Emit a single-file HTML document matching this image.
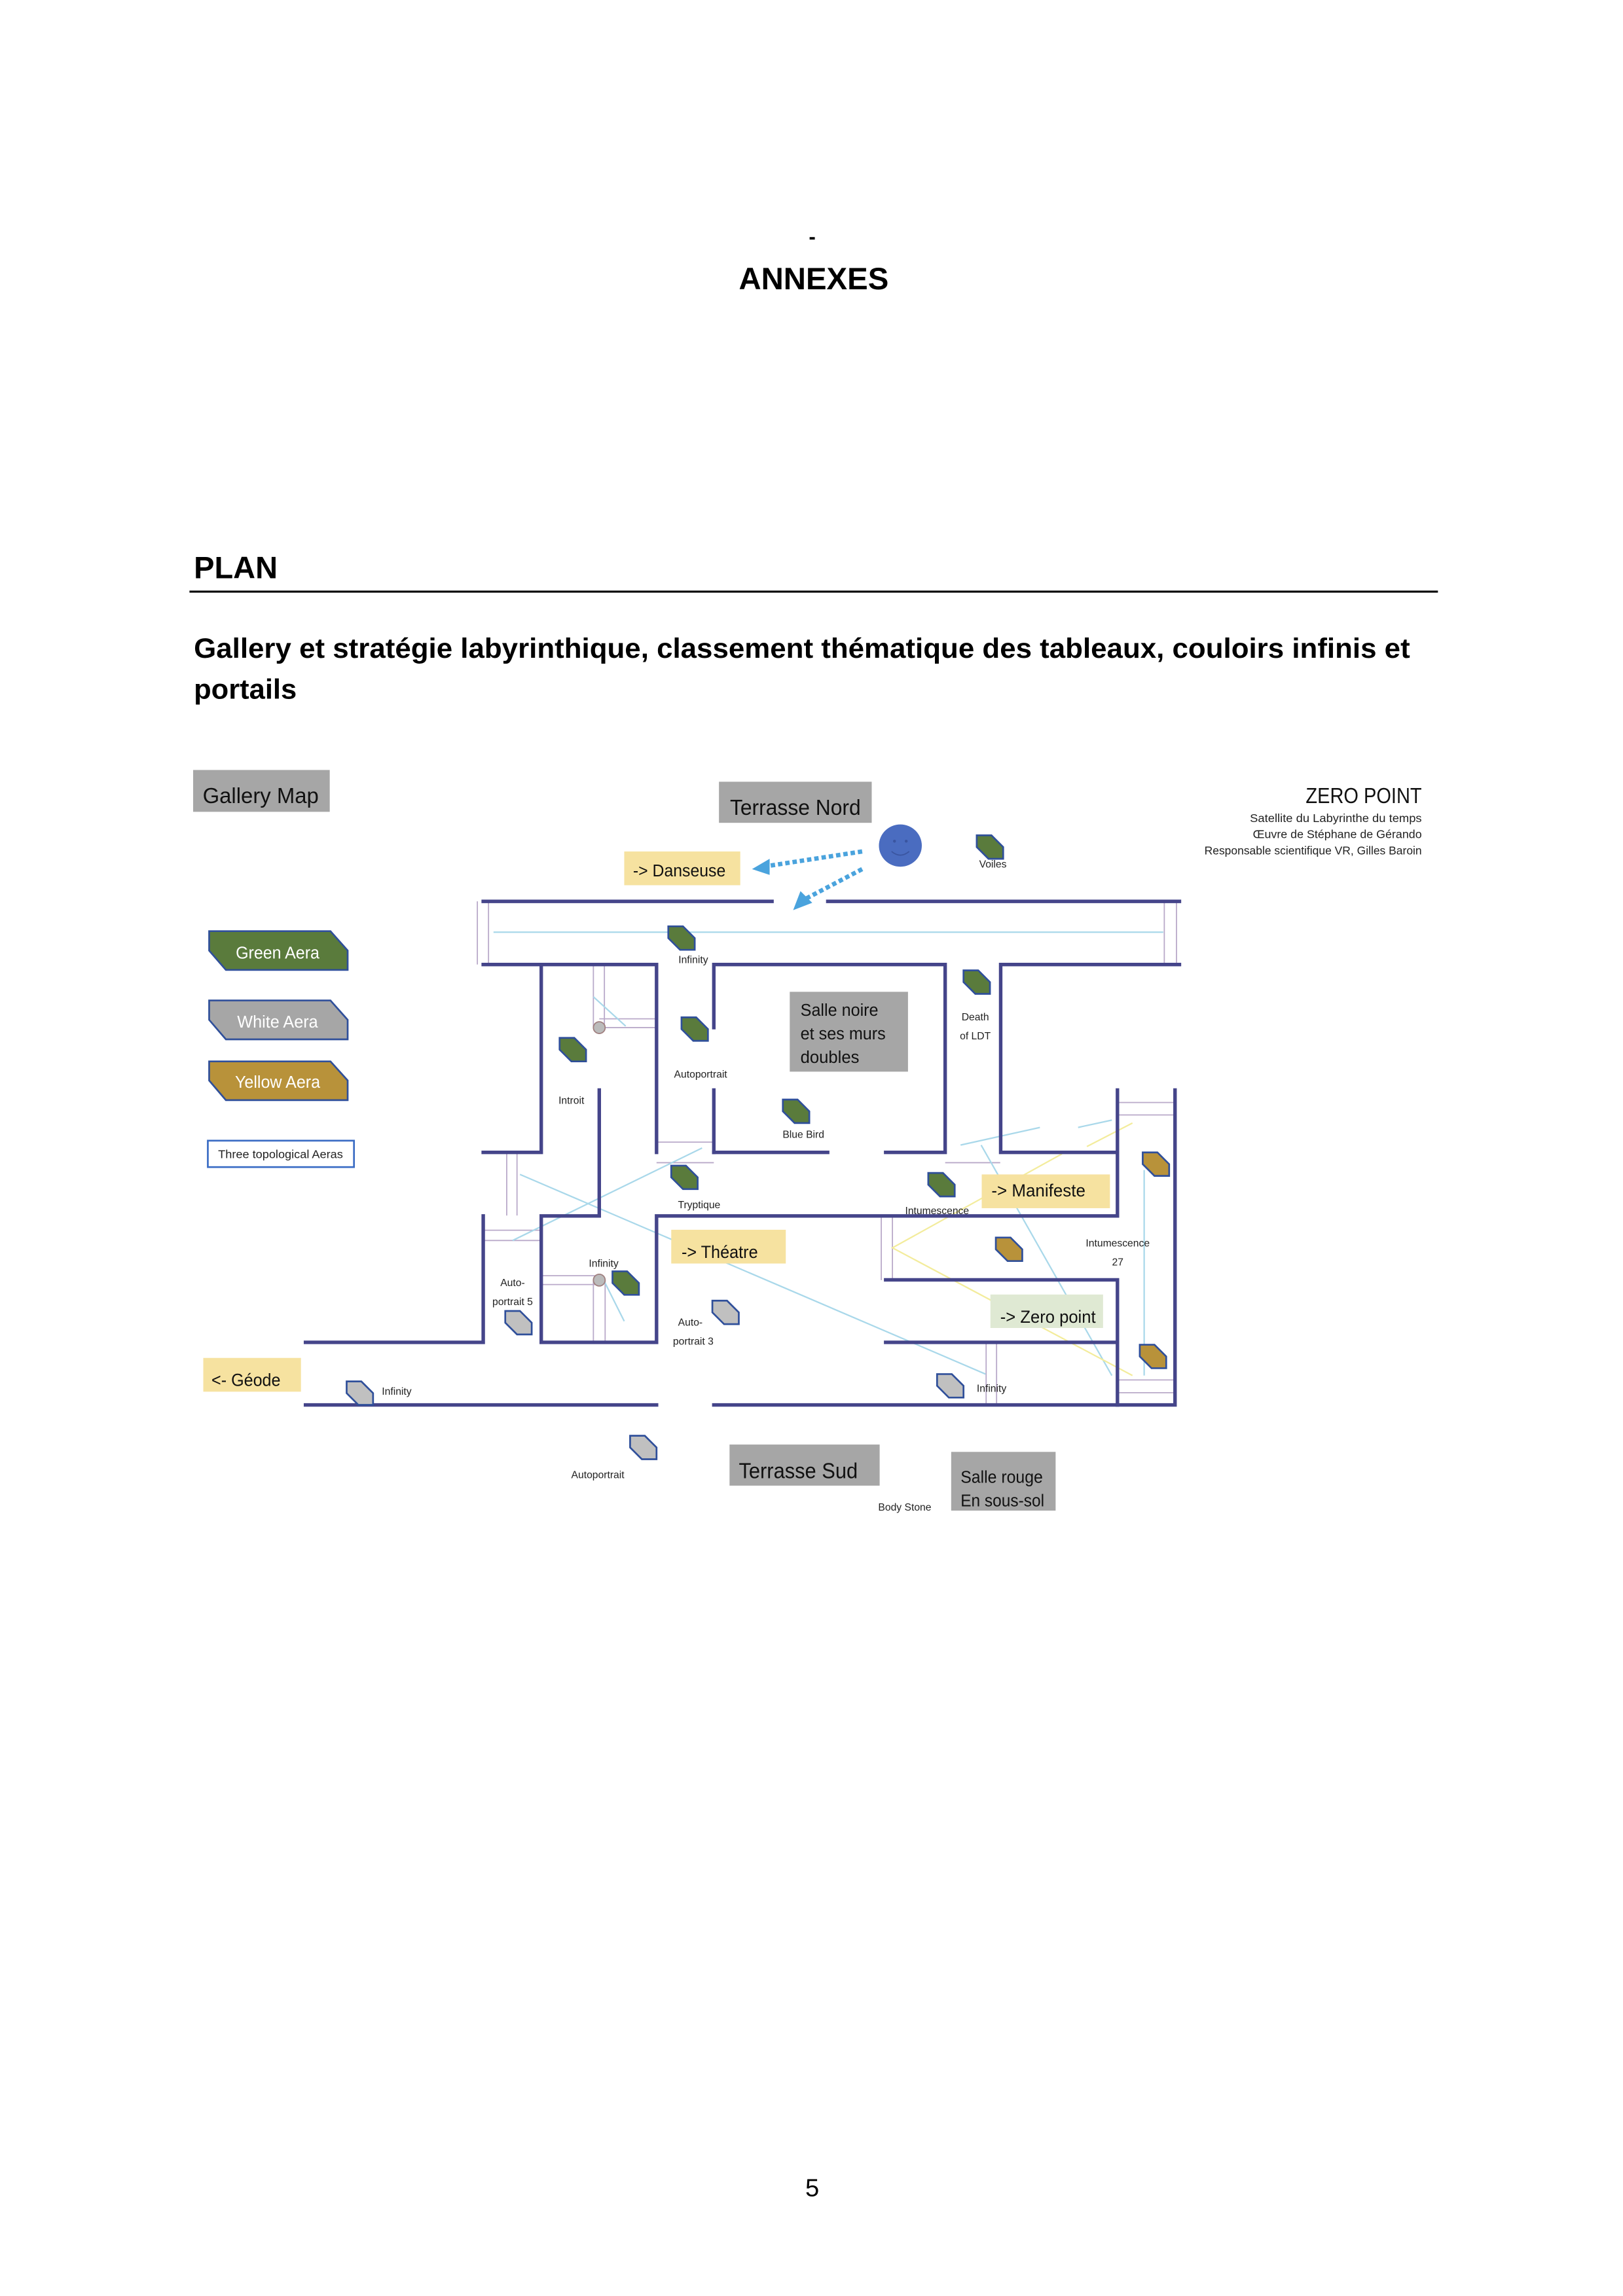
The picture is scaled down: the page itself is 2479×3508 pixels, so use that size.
<!DOCTYPE html>
<html><head><meta charset="utf-8"><style>
html,body{margin:0;padding:0;background:#fff;}
svg{display:block;}
text{font-family:"Liberation Sans",sans-serif;}
.b{font-weight:bold;}
.w{fill:none;stroke:#45458a;stroke-width:2.4;stroke-linecap:square;}
.t{fill:none;stroke:#b9a9c9;stroke-width:0.8;}
.lb{fill:none;stroke:#a9d8ea;stroke-width:1;}
.ly{fill:none;stroke:#f3ec9c;stroke-width:1;}
.lab{font-size:7px;fill:#222;}
.g{fill:#5a7b3c;stroke:#2f4f9a;stroke-width:1.2;}
.s{fill:#c0c0c0;stroke:#2f4f9a;stroke-width:1.2;}
.y{fill:#b8923a;stroke:#2f4f9a;stroke-width:1.2;}
</style></head><body>
<svg width="2479" height="3508" viewBox="0 0 1105 1564" preserveAspectRatio="none" xmlns="http://www.w3.org/2000/svg">
<defs>
<polygon id="hx" points="0,0 10,0 18,8 18,16 8,16 0,8"/>
</defs>
<!-- page text -->
<text x="553" y="166" font-size="14" text-anchor="middle" class="b">-</text>
<text x="554" y="197" font-size="21" text-anchor="middle" class="b" textLength="102" lengthAdjust="spacingAndGlyphs">ANNEXES</text>
<text x="132" y="394" font-size="21" class="b" textLength="57" lengthAdjust="spacingAndGlyphs">PLAN</text>
<line x1="129" y1="403" x2="979" y2="403" stroke="#000" stroke-width="1.4"/>
<text x="132" y="448" font-size="19" class="b" textLength="828" lengthAdjust="spacingAndGlyphs">Gallery et stratégie labyrinthique, classement thématique des tableaux, couloirs infinis et</text>
<text x="132" y="476" font-size="19" class="b" textLength="70" lengthAdjust="spacingAndGlyphs">portails</text>
<text x="553" y="1496" font-size="17" text-anchor="middle">5</text>

<!-- Gallery map header boxes -->
<rect x="131.5" y="524.5" width="93" height="28.5" fill="#a6a6a6"/>
<text x="138" y="547" font-size="15" fill="#111" textLength="79" lengthAdjust="spacingAndGlyphs">Gallery Map</text>
<rect x="489.5" y="532.5" width="104" height="28" fill="#a6a6a6"/>
<text x="497" y="555" font-size="15" fill="#111" textLength="89" lengthAdjust="spacingAndGlyphs">Terrasse Nord</text>
<rect x="425" y="580" width="79" height="23" fill="#f6e2a0"/>
<text x="431" y="597" font-size="11.5" fill="#111" textLength="63" lengthAdjust="spacingAndGlyphs">-&gt; Danseuse</text>

<!-- smiley -->
<ellipse cx="613" cy="576" rx="14.6" ry="14.4" fill="#4a6cc0"/>
<circle cx="609" cy="573" r="1" fill="#3a55a0"/><circle cx="617" cy="573" r="1" fill="#3a55a0"/>
<path d="M607 580 Q613 585 619 580" fill="none" stroke="#3a55a0" stroke-width="0.8"/>
<!-- dotted arrows -->
<line x1="587" y1="580" x2="522" y2="590" stroke="#4aa3dd" stroke-width="3" stroke-dasharray="3,2"/>
<polygon points="512,592 524,585 524,596" fill="#4aa3dd"/>
<line x1="587" y1="592" x2="549" y2="612" stroke="#4aa3dd" stroke-width="3" stroke-dasharray="3,2"/>
<polygon points="540,620 545,607 553,615" fill="#4aa3dd"/>

<!-- Zero point title -->
<text x="968" y="547" font-size="15" text-anchor="end" fill="#111" textLength="79" lengthAdjust="spacingAndGlyphs">ZERO POINT</text>
<text x="968" y="560" font-size="8" text-anchor="end" fill="#222" textLength="117" lengthAdjust="spacingAndGlyphs">Satellite du Labyrinthe du temps</text>
<text x="968" y="571" font-size="8" text-anchor="end" fill="#222" textLength="115" lengthAdjust="spacingAndGlyphs">Œuvre de Stéphane de Gérando</text>
<text x="968" y="582" font-size="8" text-anchor="end" fill="#222" textLength="148" lengthAdjust="spacingAndGlyphs">Responsable scientifique VR, Gilles Baroin</text>

<!-- legend -->
<polygon class="g" points="142.4,634.3 225,634.3 236.7,647.5 236.7,660.7 153.8,660.7 142.4,647.5"/>
<text x="189" y="653" font-size="11.5" fill="#fff" text-anchor="middle" textLength="57" lengthAdjust="spacingAndGlyphs">Green Aera</text>
<polygon class="s" fill="#a6a6a6" style="fill:#a6a6a6" points="142.4,681.5 225,681.5 236.7,694.7 236.7,708 153.8,708 142.4,694.7"/>
<text x="189" y="700" font-size="11.5" fill="#fff" text-anchor="middle" textLength="55" lengthAdjust="spacingAndGlyphs">White Aera</text>
<polygon class="y" points="142.4,723 225,723 236.7,736 236.7,749.4 153.8,749.4 142.4,736"/>
<text x="189" y="741" font-size="11.5" fill="#fff" text-anchor="middle" textLength="58" lengthAdjust="spacingAndGlyphs">Yellow Aera</text>
<rect x="141.5" y="777" width="99.5" height="18" fill="#fff" stroke="#3a6cc4" stroke-width="1.2"/>
<text x="191" y="789" font-size="8" text-anchor="middle" fill="#222" textLength="85" lengthAdjust="spacingAndGlyphs">Three topological Aeras</text>

<!-- thin lines / light lines -->
<g class="t">
<line x1="325" y1="614" x2="325" y2="657"/><line x1="332.6" y1="614" x2="332.6" y2="657"/>
<line x1="792.7" y1="614" x2="792.7" y2="657"/><line x1="801" y1="614" x2="801" y2="657"/>
<line x1="404" y1="657" x2="404" y2="700"/><line x1="411.5" y1="657" x2="411.5" y2="700"/>
<line x1="408" y1="694" x2="447" y2="694"/><line x1="408" y1="700" x2="447" y2="700"/>
<line x1="345" y1="785" x2="345" y2="828"/><line x1="352" y1="785" x2="352" y2="828"/>
<line x1="329" y1="838" x2="368" y2="838"/><line x1="329" y1="845" x2="368" y2="845"/>
<line x1="368.5" y1="869" x2="408" y2="869"/><line x1="368.5" y1="875" x2="408" y2="875"/>
<line x1="404" y1="872" x2="404" y2="914"/><line x1="412" y1="872" x2="412" y2="914"/>
<line x1="447" y1="778" x2="486" y2="778"/><line x1="447" y1="792" x2="486" y2="792"/>
<line x1="643.5" y1="792" x2="681" y2="792"/>
<line x1="600" y1="828" x2="600" y2="872"/><line x1="607.6" y1="828" x2="607.6" y2="872"/>
<line x1="671.4" y1="914" x2="671.4" y2="957"/><line x1="678.5" y1="914" x2="678.5" y2="957"/>
<line x1="761" y1="751" x2="800" y2="751"/><line x1="761" y1="759.5" x2="800" y2="759.5"/>
<line x1="761" y1="940" x2="800" y2="940"/><line x1="761" y1="948.7" x2="800" y2="948.7"/>
</g>
<g class="lb">
<line x1="336" y1="635" x2="792" y2="635"/>
<line x1="404" y1="679" x2="426" y2="699"/>
<line x1="354" y1="800" x2="671" y2="936"/>
<line x1="349" y1="845" x2="478" y2="782"/>
<line x1="668" y1="780" x2="757" y2="937"/>
<line x1="779" y1="797" x2="779" y2="937"/>
<line x1="734" y1="768" x2="757" y2="763"/>
<line x1="654" y1="780" x2="708" y2="768"/>
<line x1="411" y1="872" x2="425" y2="900"/>
<line x1="681" y1="785" x2="760" y2="785"/>
</g>
<g class="ly">
<polyline points="723,786 607.6,850 771,937"/>
<line x1="740" y1="781" x2="771" y2="765"/>
</g>

<!-- walls -->
<g class="w">
<line x1="329" y1="614" x2="525.6" y2="614"/><line x1="563.6" y1="614" x2="803" y2="614"/>
<polyline points="329,657 447,657 447,785"/>
<polyline points="486,700 486,657 643.5,657 643.5,785 603,785"/>
<polyline points="803,657 681.3,657 681.3,785 760.8,785 760.8,828.3 447,828.3 447,914.4 368.5,914.4 368.5,828.3 408,828.3 408,742.5"/>
<polyline points="368.5,657 368.5,785 329,785"/>
<line x1="486" y1="742.5" x2="486" y2="785"/><line x1="486" y1="785" x2="563.5" y2="785"/>
<polyline points="208,914.4 329,914.4 329,828.3"/>
<line x1="208" y1="957" x2="447" y2="957"/>
<polyline points="486,957 800,957 800,742.5"/>
<line x1="760.8" y1="742.5" x2="760.8" y2="785"/>
<polyline points="603,871.8 760.8,871.8 760.8,957"/>
<line x1="603" y1="914.4" x2="760.8" y2="914.4"/>
</g>
<circle cx="408" cy="700" r="4" fill="#bbb" stroke="#a08080" stroke-width="0.8"/>
<circle cx="408" cy="872" r="4" fill="#bbb" stroke="#a08080" stroke-width="0.8"/>

<!-- boxes inside map -->
<rect x="537.7" y="675.6" width="80.5" height="54.4" fill="#a6a6a6"/>
<text x="545" y="692" font-size="11.5" fill="#111" textLength="53" lengthAdjust="spacingAndGlyphs">Salle noire</text>
<text x="545" y="708" font-size="11.5" fill="#111" textLength="58" lengthAdjust="spacingAndGlyphs">et ses murs</text>
<text x="545" y="724" font-size="11.5" fill="#111" textLength="40" lengthAdjust="spacingAndGlyphs">doubles</text>
<rect x="668.4" y="800" width="87.3" height="23" fill="#f6e2a0"/>
<text x="675" y="815" font-size="12" fill="#111" textLength="64" lengthAdjust="spacingAndGlyphs">-&gt; Manifeste</text>
<rect x="457" y="837.7" width="78" height="23" fill="#f6e2a0"/>
<text x="464" y="857" font-size="12" fill="#111" textLength="52" lengthAdjust="spacingAndGlyphs">-&gt; Théatre</text>
<rect x="674.3" y="881.8" width="76.7" height="22.8" fill="#dfe9d3"/>
<text x="681" y="901" font-size="12" fill="#111" textLength="65" lengthAdjust="spacingAndGlyphs">-&gt; Zero point</text>
<rect x="138.4" y="925" width="66.5" height="23" fill="#f6e2a0"/>
<text x="144" y="944" font-size="12" fill="#111" textLength="47" lengthAdjust="spacingAndGlyphs">&lt;- Géode</text>
<rect x="496.7" y="984" width="102.2" height="28" fill="#a6a6a6"/>
<text x="503" y="1007" font-size="15" fill="#111" textLength="81" lengthAdjust="spacingAndGlyphs">Terrasse Sud</text>
<rect x="647.6" y="989" width="71.1" height="40" fill="#a6a6a6"/>
<text x="654" y="1010" font-size="11.5" fill="#111" textLength="56" lengthAdjust="spacingAndGlyphs">Salle rouge</text>
<text x="654" y="1026" font-size="11.5" fill="#111" textLength="57" lengthAdjust="spacingAndGlyphs">En sous-sol</text>

<!-- artwork hexes -->
<use href="#hx" class="g" x="455" y="631"/>
<use href="#hx" class="g" x="464" y="693"/>
<use href="#hx" class="g" x="381" y="707"/>
<use href="#hx" class="g" x="533" y="749"/>
<use href="#hx" class="g" x="665" y="569"/>
<use href="#hx" class="g" x="656" y="661"/>
<use href="#hx" class="g" x="457" y="794"/>
<use href="#hx" class="g" x="417" y="866"/>
<use href="#hx" class="g" x="632" y="799"/>
<use href="#hx" class="s" x="344" y="893"/>
<use href="#hx" class="s" x="485" y="886"/>
<use href="#hx" class="s" x="236" y="941"/>
<use href="#hx" class="s" x="429" y="978"/>
<use href="#hx" class="s" x="638" y="936"/>
<use href="#hx" class="y" x="778" y="785"/>
<use href="#hx" class="y" x="678" y="843"/>
<use href="#hx" class="y" x="776" y="916"/>

<!-- labels -->
<g class="lab">
<text x="472" y="656" text-anchor="middle">Infinity</text>
<text x="477" y="734" text-anchor="middle">Autoportrait</text>
<text x="389" y="752" text-anchor="middle">Introit</text>
<text x="547" y="775" text-anchor="middle">Blue Bird</text>
<text x="676" y="591" text-anchor="middle">Voiles</text>
<text x="664" y="695" text-anchor="middle">Death</text>
<text x="664" y="708" text-anchor="middle">of LDT</text>
<text x="476" y="823" text-anchor="middle">Tryptique</text>
<text x="638" y="827" text-anchor="middle">Intumescence</text>
<text x="411" y="863" text-anchor="middle">Infinity</text>
<text x="349" y="876" text-anchor="middle">Auto-</text>
<text x="349" y="889" text-anchor="middle">portrait 5</text>
<text x="470" y="903" text-anchor="middle">Auto-</text>
<text x="472" y="916" text-anchor="middle">portrait 3</text>
<text x="260" y="950">Infinity</text>
<text x="407" y="1007" text-anchor="middle">Autoportrait</text>
<text x="665" y="948">Infinity</text>
<text x="761" y="849" text-anchor="middle">Intumescence</text>
<text x="761" y="862" text-anchor="middle">27</text>
<text x="616" y="1029" text-anchor="middle">Body Stone</text>
</g>
</svg>
</body></html>
